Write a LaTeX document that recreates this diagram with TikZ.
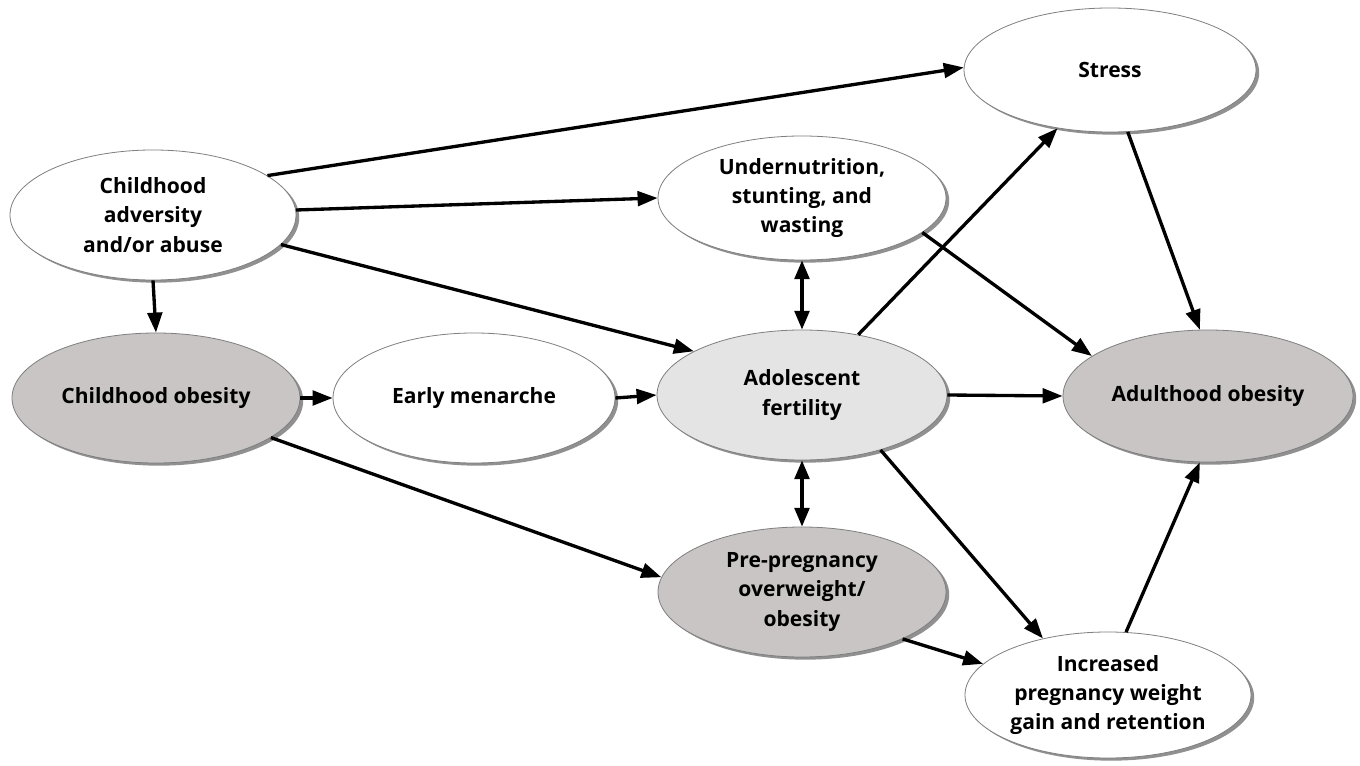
\documentclass[tikz,border=0pt]{standalone}
\usepackage{fontspec}
\setmainfont{Open Sans}
\usetikzlibrary{shapes.geometric,arrows.meta,shadows}
\definecolor{darkfill}{HTML}{C9C5C5}
\definecolor{lightfill}{HTML}{E5E4E4}
\definecolor{rimcol}{HTML}{7F7F7F}
\definecolor{shadcol}{HTML}{909090}
\begin{document}
\begin{tikzpicture}[x=0.75pt,y=-0.75pt,
  oval/.style={ellipse, draw=rimcol, line width=0.6pt, fill=white, inner sep=0pt,
    font=\bfseries\fontsize{15.8pt}{22pt}\selectfont, align=center,
    drop shadow={shadow xshift=2.4pt, shadow yshift=-2pt, fill=shadcol, opacity=1}},
  dark/.style={fill=darkfill},
  light/.style={fill=lightfill},
  conn/.style={line width=2.5pt, -{Triangle[length=15pt,width=11pt]}},
  biconn/.style={line width=2.5pt, {Triangle[length=14pt,width=11pt]}-{Triangle[length=14pt,width=11pt]}}]
\useasboundingbox[fill=white] (0,0) rectangle (1360,766);
\node[oval, minimum width=214.5pt, minimum height=97.5pt] (adv) at (153,215) {Childhood\\adversity\\and/or abuse};
\node[oval, dark, minimum width=216pt, minimum height=97.5pt] (cob) at (156,398) {Childhood obesity};
\node[oval, minimum width=211.5pt, minimum height=97.5pt] (men) at (474,398) {Early menarche};
\node[oval, light, minimum width=217.5pt, minimum height=97.5pt] (fer) at (802,395) {Adolescent\\fertility};
\node[oval, minimum width=216pt, minimum height=93pt] (und) at (802,198) {Undernutrition,\\stunting, and\\wasting};
\node[oval, minimum width=219pt, minimum height=93pt] (str) at (1110,70) {Stress};
\node[oval, dark, minimum width=217.5pt, minimum height=99pt] (aob) at (1208,396) {Adulthood obesity};
\node[oval, dark, minimum width=216pt, minimum height=97.5pt] (pre) at (802,592) {Pre-pregnancy\\overweight/\\obesity};
\node[oval, minimum width=214.5pt, minimum height=94.5pt] (inc) at (1108,695) {Increased\\pregnancy weight\\gain and retention};

\draw[conn] (adv.19) -- (str.179);
\draw[conn] (adv.2) -- (und.180);
\draw[conn] (adv.-13) -- (fer.158);
\draw[conn] (adv.-90) -- (cob.90);
\draw[conn] (cob.0) -- (men.180);
\draw[conn] (cob.-19) -- (pre.174);
\draw[conn] (men.0) -- (fer.180);
\draw[biconn] (und.-90) -- (fer.90);
\draw[biconn] (fer.-90) -- (pre.90);
\draw[conn] (fer.47) -- (str.-132);
\draw[conn] (und.-16) -- (aob.161);
\draw[conn] (str.-74) -- (aob.97);
\draw[conn] (fer.0) -- (aob.180);
\draw[conn] (fer.-35) -- (inc.139);
\draw[conn] (pre.-25) -- (inc.166);
\draw[conn] (inc.74) -- (aob.-97);
\end{tikzpicture}
\end{document}
